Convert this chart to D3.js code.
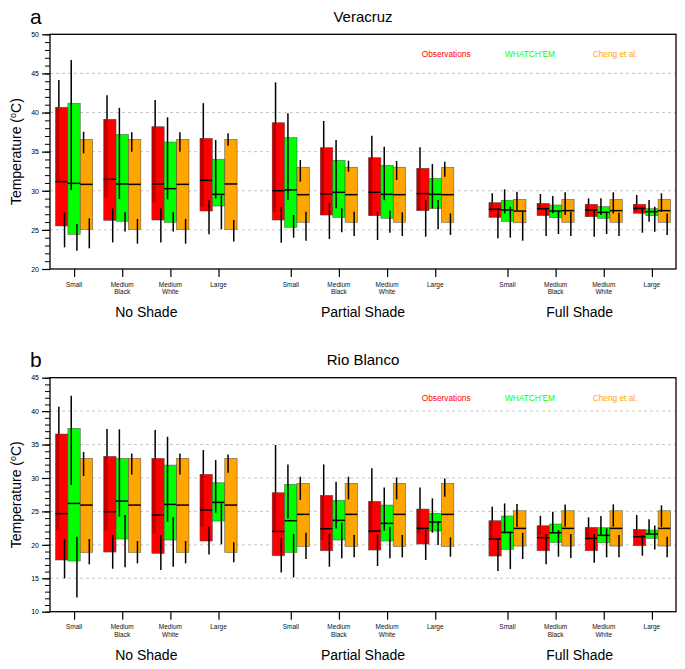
<!DOCTYPE html>
<html><head><meta charset="utf-8">
<script src="https://cdn.jsdelivr.net/npm/d3@7"></script>
<style>body{margin:0;background:#fff}svg{display:block}text{font-family:"Liberation Sans",Arial,Helvetica,sans-serif}</style>
</head><body>
<svg id="chart" width="685" height="669"></svg>
<script>
// ---------- data ----------
const groups = ["No Shade", "Partial Shade", "Full Shade"];
const sizes = [["Small"], ["Medium", "Black"], ["Medium", "White"], ["Large"]];
const seriesNames = ["Observations", "WHATCH'EM", "Cheng et al."];
const seriesColors = ["#ff0000", "#00ff00", "#ffa500"];
const panelTitles = ["Veracruz", "Rio Blanco"];
const panelLetters = ["a", "b"];
const yTicksA = [20, 25, 30, 35, 40, 45, 50];
const yTicksB = [10, 15, 20, 25, 30, 35, 40, 45];

// rows: [min, lowerWhiskerTop, boxLow, median, boxHigh, upperWhiskerBottom, max]
// order: No Shade (S, MB, MW, L), Partial Shade (...), Full Shade (...)
const veracruzObs = [
  [22.77,27.2,25.5,31.16,40.67,31.2,44.16],[23.4,27.75,26.22,31.46,39.13,29.2,42.2],
  [23.4,27.75,26.26,30.87,38.19,28.5,41.6],[24.43,28.8,27.41,31.33,36.7,27.97,41.2],
  [23.37,27.97,26.26,30.01,38.7,27.33,43.86],[23.83,28.48,26.9,29.59,35.51,26.69,38.92],
  [23.71,27.33,26.82,29.8,34.23,26.6,37.04],[24.13,28.82,27.46,29.63,32.87,26.26,35.55],
  [23.92,27.75,26.6,27.63,28.48,27.33,29.67],[24.22,27.71,26.82,27.71,28.39,27.54,29.59],
  [24.13,27.54,26.69,27.54,28.27,26.26,29.03],[24.64,27.75,27.12,27.75,28.27,27.33,29.46]
];
const veracruzWhatchem = [
  [22.34,25.75,24.43,30.95,41.18,30.1,46.7],[24.8,27.3,26.1,30.87,37.2,28.95,40.6],
  [24.8,27.3,25.97,30.27,36.23,28.9,39.39],[25.07,29.37,28.05,29.54,34.02,29.0,36.49],
  [24.0,26.9,25.33,30.1,36.79,28.82,39.9],[24.69,27.75,26.6,29.8,33.89,27.75,36.49],
  [24.64,27.46,26.48,29.54,33.25,28.8,35.64],[25.07,28.82,27.75,29.54,31.59,27.75,33.42],
  [24.0,27.97,26.09,27.54,28.78,27.1,30.18],[24.47,27.46,26.56,27.41,28.18,27.12,29.33],
  [24.47,27.33,26.48,27.24,27.97,26.9,29.03],[24.77,27.97,26.82,27.33,27.71,26.05,28.82]
];
const veracruzCheng = [
  [22.64,26.48,25.07,30.82,36.57,34.78,37.55],[23.24,26.4,25.07,30.82,36.57,35.0,37.47],
  [23.24,26.4,25.07,30.82,36.57,35.0,37.47],[23.5,26.26,25.07,30.87,36.57,35.76,37.34],
  [23.62,27.33,25.97,29.5,33.0,31.16,33.93],[24.22,27.33,25.97,29.5,33.0,32.44,33.85],
  [24.22,27.24,25.97,29.5,33.0,31.38,33.8],[24.35,27.1,25.97,29.5,33.0,31.8,33.72],
  [23.62,27.33,25.92,27.41,28.9,27.54,29.88],[24.22,27.33,25.97,27.46,28.9,26.9,29.8],
  [24.22,27.2,25.97,27.46,28.9,27.1,29.8],[24.35,27.1,25.97,27.46,28.9,27.33,29.67]
];
const rioBlancoObs = [
  [14.99,20.82,17.73,24.66,36.57,22.2,40.66],[16.43,21.47,18.92,24.96,33.23,22.06,37.32],
  [16.23,21.47,18.72,24.46,32.93,21.81,37.17],[18.57,22.71,20.57,25.2,30.54,22.71,34.18],
  [15.88,20.97,18.37,22.01,27.8,21.96,34.93],[16.73,21.62,19.12,22.41,27.4,20.72,32.03],
  [16.83,21.57,19.22,22.06,26.5,21.71,31.44],[17.73,22.21,20.12,22.46,25.35,21.71,28.59],
  [16.08,20.72,18.32,20.87,23.61,20.72,25.7],[17.08,21.57,19.12,21.07,22.86,21.47,24.36],
  [17.33,21.62,19.12,20.97,22.61,20.72,24.11],[18.38,21.47,19.87,21.22,22.31,21.47,24.46]
];
const rioBlancoWhatchem = [
  [12.14,21.22,17.58,26.2,37.42,28.94,42.3],[16.63,24.46,20.87,26.55,32.93,24.21,37.27],
  [16.73,24.11,20.72,26.05,31.93,23.46,36.17],[20.07,26.2,23.56,26.35,29.29,24.81,32.68],
  [15.13,21.62,18.87,23.61,29.04,23.96,32.03],[17.98,23.31,20.72,23.66,26.65,22.46,29.44],
  [17.98,22.71,20.57,23.21,25.95,22.11,28.59],[19.97,23.56,22.06,23.41,24.71,21.81,26.95],
  [16.38,21.96,19.32,21.86,24.31,21.71,26.2],[18.23,22.21,20.37,21.81,23.11,21.96,24.96],
  [18.13,22.46,20.32,21.42,22.56,21.47,24.31],[19.32,22.91,20.97,21.62,22.21,21.71,23.81]
];
const rioBlancoCheng = [
  [17.08,20.87,18.87,25.95,32.93,30.29,33.88],[17.23,20.57,18.87,25.95,32.93,30.54,33.68],
  [17.23,20.57,18.87,25.95,32.93,30.54,33.68],[17.38,20.37,18.87,25.95,32.93,30.79,33.53],
  [17.88,21.81,19.77,24.56,29.19,26.7,30.19],[18.13,21.47,19.77,24.56,29.19,26.8,30.19],
  [18.13,21.47,19.77,24.56,29.19,26.8,30.09],[18.23,21.12,19.77,24.56,29.19,27.2,29.94],
  [17.88,21.81,19.82,22.46,25.1,22.71,26.1],[18.03,21.62,19.82,22.46,25.1,22.71,26.05],
  [18.13,21.47,19.82,22.46,25.1,22.71,26.05],[18.13,21.22,19.82,22.46,25.1,22.71,25.9]
];

const panels = [
  {title: panelTitles[0], letter: panelLetters[0], ticks: yTicksA, data: [veracruzObs, veracruzWhatchem, veracruzCheng], top: 34.3, bottom: 269},
  {title: panelTitles[1], letter: panelLetters[1], ticks: yTicksB, data: [rioBlancoObs, rioBlancoWhatchem, rioBlancoCheng], top: 377.7, bottom: 611.7}
];

// ---------- drawing ----------
const svg = d3.select("#chart");
const left = 50, right = 676;
const catPositions = [];
groups.forEach((g, gi) => sizes.forEach((s, si) => catPositions.push({g: gi, s: si, pos: gi * 4.5 + si})));
const x = d3.scaleLinear().domain([-0.5, 12.5]).range([left, right]);
const bw = 0.257; // box width in category units

panels.forEach(p => {
  const g = svg.append("g");
  const y = d3.scaleLinear().domain([p.ticks[0], p.ticks[p.ticks.length - 1]]).range([p.bottom, p.top]);

  // grid
  g.selectAll(".grid").data(p.ticks.slice(1, -1)).join("line")
    .attr("x1", left).attr("x2", right).attr("y1", d => y(d)).attr("y2", d => y(d))
    .attr("stroke", "#b8b8b8").attr("stroke-width", 0.8).attr("stroke-dasharray", "3,3");

  // boxes
  p.data.forEach((rows, si) => {
    const col = seriesColors[si];
    rows.forEach((r, ci) => {
      const [mn, lwTop, lo, med, hi, uwBot, mx] = r;
      const cx = catPositions[ci].pos;
      const x0 = x(cx + (si - 1.5) * bw), x1 = x(cx + (si - 0.5) * bw);
      const ux = x0 + (x1 - x0) * 0.27, lx = x0 + (x1 - x0) * 0.73;
      g.append("rect").attr("x", x0).attr("y", y(hi)).attr("width", x1 - x0).attr("height", y(lo) - y(hi))
        .attr("fill", col).attr("stroke", "#444").attr("stroke-opacity", 0.7).attr("stroke-width", 0.7);
      if (si === 0) {
        // darker strip seen inside observation boxes along the upper whisker
        const yb = Math.min(y(uwBot), y(lo));
        g.append("rect").attr("x", x0 + 0.3).attr("y", y(hi)).attr("width", ux - x0 + 0.2).attr("height", Math.max(0, yb - y(hi)))
          .attr("fill", "#a00000").attr("opacity", 0.7);
        g.append("line").attr("x1", ux).attr("x2", ux).attr("y1", y(mx)).attr("y2", y(hi))
          .attr("stroke", "#000").attr("stroke-width", 1.5);
      } else {
        g.append("line").attr("x1", ux).attr("x2", ux).attr("y1", y(mx)).attr("y2", y(uwBot))
          .attr("stroke", "#000").attr("stroke-width", 1.5);
      }
      g.append("line").attr("x1", lx).attr("x2", lx).attr("y1", y(lwTop)).attr("y2", y(mn))
        .attr("stroke", "#000").attr("stroke-width", 1.5);
      g.append("line").attr("x1", x0).attr("x2", x1).attr("y1", y(med)).attr("y2", y(med))
        .attr("stroke", "#000").attr("stroke-width", 1.5);
    });
  });

  // frame
  g.append("rect").attr("x", left).attr("y", p.top).attr("width", right - left).attr("height", p.bottom - p.top)
    .attr("fill", "none").attr("stroke", "#000").attr("stroke-width", 1.3);

  // y axis
  const minor = d3.range(p.ticks[0], p.ticks[p.ticks.length - 1] + 0.001, 1);
  const yMinor = g.append("g").attr("transform", `translate(${left},0)`)
    .call(d3.axisLeft(y).tickValues(minor).tickSize(5).tickFormat(""));
  yMinor.select(".domain").remove();
  yMinor.selectAll("line").attr("stroke-width", 1);
  const yAx = g.append("g").attr("transform", `translate(${left},0)`)
    .call(d3.axisLeft(y).tickValues(p.ticks).tickSize(8).tickPadding(3));
  yAx.select(".domain").remove();
  yAx.selectAll("line").attr("stroke-width", 1.2);
  yAx.selectAll("text").attr("font-size", 7).attr("font-family", "Liberation Sans, Arial, sans-serif");

  // x axis ticks
  const xAx = g.append("g").attr("transform", `translate(0,${p.bottom})`)
    .call(d3.axisBottom(x).tickValues(catPositions.map(c => c.pos)).tickSize(8).tickFormat(""));
  xAx.select(".domain").remove();
  xAx.selectAll("line").attr("stroke-width", 1.2);

  // category labels
  catPositions.forEach(c => {
    const t = g.append("text").attr("x", x(c.pos)).attr("y", p.bottom + 17.5)
      .attr("text-anchor", "middle").attr("font-size", 6.5).attr("fill", "#111");
    sizes[c.s].forEach((line, li) => {
      t.append("tspan").attr("x", x(c.pos)).attr("dy", li === 0 ? 0 : 7.5).text(line);
    });
  });
  groups.forEach((gr, gi) => {
    g.append("text").attr("x", x(gi * 4.5 + 1.5)).attr("y", p.bottom + 48)
      .attr("text-anchor", "middle").attr("font-size", 14).attr("fill", "#000").text(gr);
  });

  // y title
  const yt = g.append("text").attr("transform", `translate(21,${(p.top + p.bottom) / 2}) rotate(-90)`)
    .attr("text-anchor", "middle").attr("font-size", 14).attr("fill", "#000");
  yt.append("tspan").text("Temperature (");
  yt.append("tspan").attr("font-size", 9).attr("dy", -5).text("o");
  yt.append("tspan").attr("dy", 5).text("C)");

  // titles
  g.append("text").attr("x", (left + right) / 2).attr("y", p.top - 12.5).attr("text-anchor", "middle")
    .attr("font-size", 15).attr("fill", "#000").text(p.title);
  g.append("text").attr("x", 30).attr("y", p.top - 10.5).attr("font-size", 21).attr("fill", "#000").text(p.letter);

  // legend
  const legendX = [421.7, 505, 592.7];
  seriesNames.forEach((n, i) => {
    g.append("text").attr("x", legendX[i]).attr("y", p.top + 23).attr("font-size", 8.3)
      .attr("fill", seriesColors[i]).text(n);
  });
});
</script>
</body></html>
